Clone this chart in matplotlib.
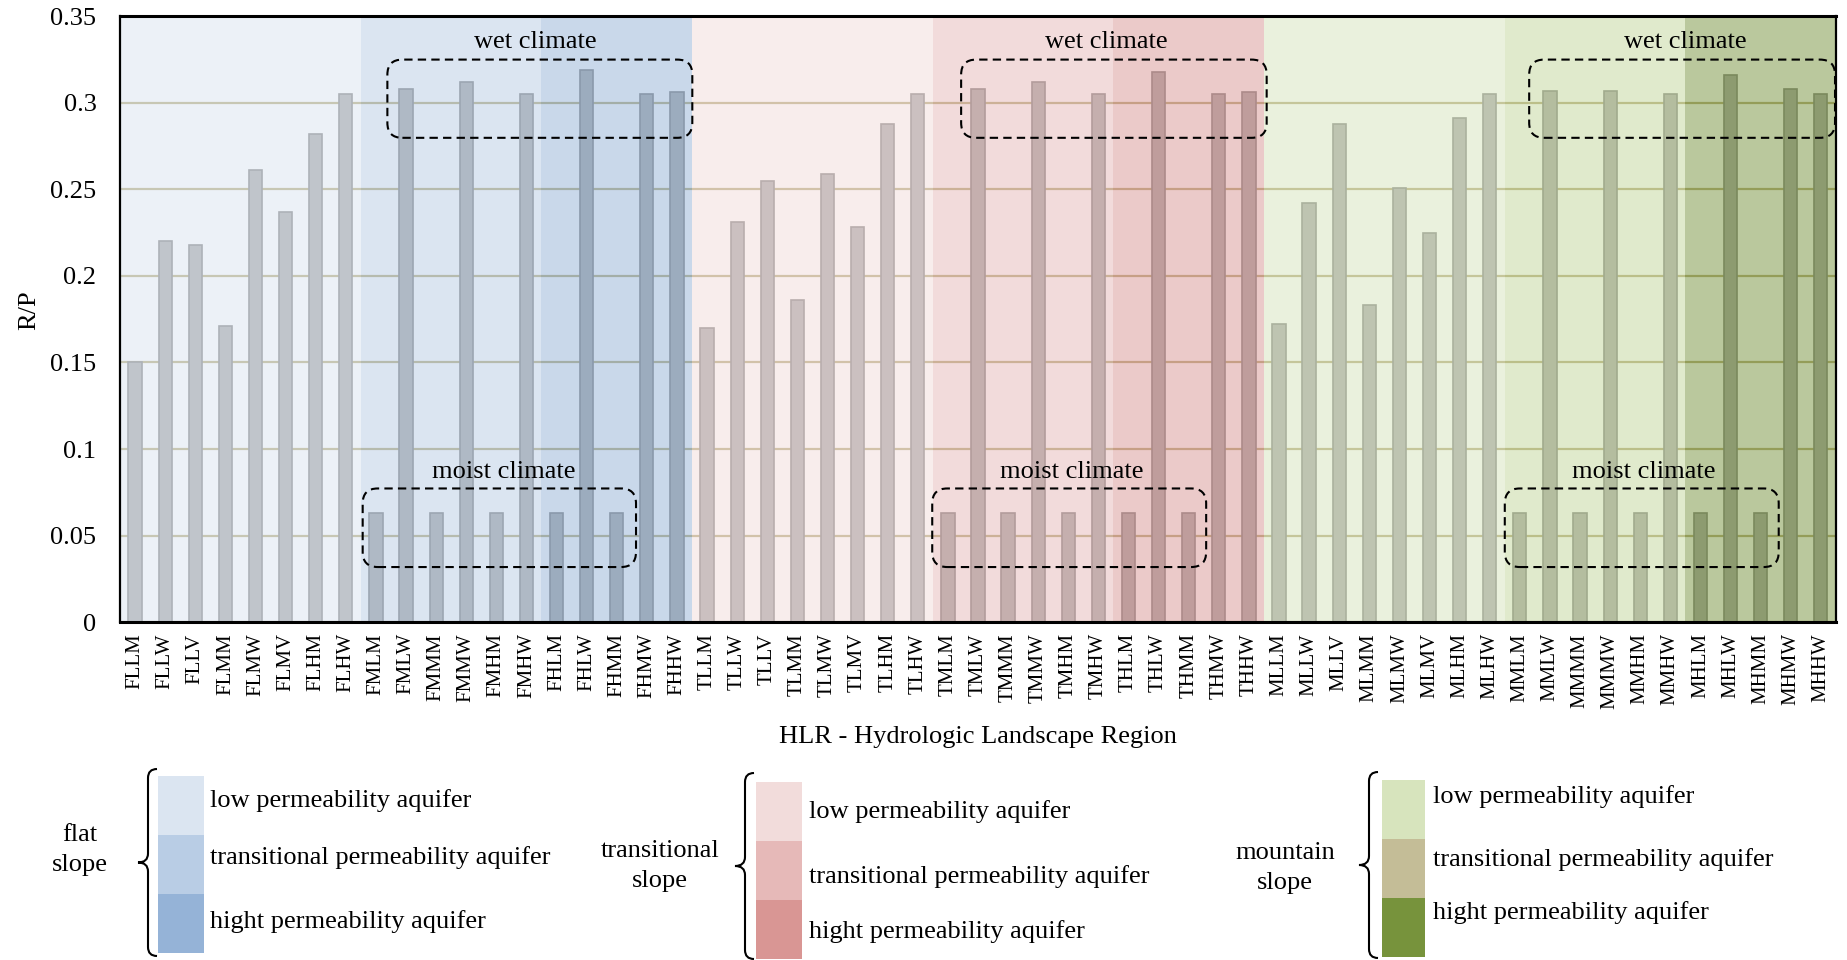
import matplotlib.pyplot as plt
import numpy as np
from matplotlib.patches import FancyBboxPatch, Rectangle, PathPatch
from matplotlib.path import Path

plt.rcParams['font.family'] = ['Liberation Serif', 'DejaVu Serif']

# HLR codes, in plot order: flat / transitional / mountain slope
hlr_labels = [
    'FLLM', 'FLLW', 'FLLV', 'FLMM', 'FLMW', 'FLMV', 'FLHM', 'FLHW',
    'FMLM', 'FMLW', 'FMMM', 'FMMW', 'FMHM', 'FMHW',
    'FHLM', 'FHLW', 'FHMM', 'FHMW', 'FHHW',
    'TLLM', 'TLLW', 'TLLV', 'TLMM', 'TLMW', 'TLMV', 'TLHM', 'TLHW',
    'TMLM', 'TMLW', 'TMMM', 'TMMW', 'TMHM', 'TMHW',
    'THLM', 'THLW', 'THMM', 'THMW', 'THHW',
    'MLLM', 'MLLW', 'MLLV', 'MLMM', 'MLMW', 'MLMV', 'MLHM', 'MLHW',
    'MMLM', 'MMLW', 'MMMM', 'MMMW', 'MMHM', 'MMHW',
    'MHLM', 'MHLW', 'MHMM', 'MHMW', 'MHHW',
]
rp_values = [
    0.150, 0.220, 0.218, 0.171, 0.261, 0.237, 0.282, 0.305,
    0.063, 0.308, 0.063, 0.312, 0.063, 0.305,
    0.063, 0.319, 0.063, 0.305, 0.306,
    0.170, 0.231, 0.255, 0.186, 0.259, 0.228, 0.288, 0.305,
    0.063, 0.308, 0.063, 0.312, 0.063, 0.305,
    0.063, 0.318, 0.063, 0.305, 0.306,
    0.172, 0.242, 0.288, 0.183, 0.251, 0.225, 0.291, 0.305,
    0.063, 0.307, 0.063, 0.307, 0.063, 0.305,
    0.063, 0.316, 0.063, 0.308, 0.305,
]

# number of HLRs per aquifer permeability class (low, transitional, high)
perm_sizes = [8, 6, 5]
slope_names = ['flat\nslope', 'transitional\nslope', 'mountain\nslope']
perm_names = ['low permeability aquifer', 'transitional permeability aquifer',
              'hight permeability aquifer']
shade_colors = [
    ['#DBE5F1', '#B9CDE5', '#95B3D7'],
    ['#F2DCDB', '#E6B9B8', '#D99694'],
    ['#D7E4BD', '#C3D69B', '#77933C'],
]
legend_colors = [
    ['#DBE5F1', '#B9CDE5', '#95B3D7'],
    ['#F2DCDB', '#E6B9B8', '#D99694'],
    ['#D7E4BD', '#C4BD97', '#77933C'],
]

fig = plt.figure(figsize=(18.47, 9.6), dpi=100)
ax = fig.add_axes([0.065, 0.352, 0.929, 0.631])

x = np.arange(len(hlr_labels))
ax.set_xlim(-0.5, len(hlr_labels) - 0.5)
ax.set_ylim(0, 0.35)

ax.set_yticks(np.arange(0, 0.351, 0.05))
ax.set_yticklabels(['0', '0.05', '0.1', '0.15', '0.2', '0.25', '0.3', '0.35'])
ax.set_xticks(x)
ax.set_xticklabels(hlr_labels, rotation=90, fontsize=15)
ax.tick_params(axis='y', length=0, pad=17, labelsize=19)
ax.tick_params(axis='x', length=0, pad=8)
ax.yaxis.grid(True, color='#B3A977', lw=1.6)
ax.set_axisbelow(True)

ax.bar(x, rp_values, width=0.44, color='#A5A5A5', edgecolor='#7F7F7F',
       lw=1.2, zorder=2)

# shaded regions on top of bars (semi transparent)
start = 0
for s in range(3):
    for p in range(3):
        end = start + perm_sizes[p]
        ax.axvspan(start - 0.5, end - 0.5, color=shade_colors[s][p],
                   alpha=0.5, lw=0, zorder=3)
        start = end

for side, sp in ax.spines.items():
    sp.set_zorder(6)
    sp.set_color('black')
    sp.set_linewidth(2.2 if side in ('top', 'bottom') else 1.6)

# climate boxes
fig.canvas.draw()
p0 = ax.transData.transform((0, 0))
p1 = ax.transData.transform((1, 1))
aspect = (p1[0] - p0[0]) / (p1[1] - p0[1])

wet_boxes = [(8.38, 18.51), (27.44, 37.59), (46.31, 56.47)]
moist_boxes = [(7.56, 16.64), (26.48, 35.58), (45.5, 54.6)]
wet_text_x = [13.3, 32.26, 51.5]
moist_text_x = [12.26, 31.1, 50.13]

for (x0, x1) in wet_boxes:
    ax.add_patch(FancyBboxPatch((x0, 0.2798), x1 - x0, 0.325 - 0.2798,
                 boxstyle='round,pad=0,rounding_size=0.5', mutation_aspect=aspect,
                 fill=False, ec='black', lw=1.5, ls=(0, (4, 2.5)), zorder=7))
for (x0, x1) in moist_boxes:
    ax.add_patch(FancyBboxPatch((x0, 0.0318), x1 - x0, 0.0772 - 0.0318,
                 boxstyle='round,pad=0,rounding_size=0.5', mutation_aspect=aspect,
                 fill=False, ec='black', lw=1.5, ls=(0, (4, 2.5)), zorder=7))
for tx in wet_text_x:
    ax.text(tx, 0.335, 'wet climate', ha='center', va='center', fontsize=19, zorder=8)
for tx in moist_text_x:
    ax.text(tx, 0.087, 'moist climate', ha='center', va='center', fontsize=19, zorder=8)

ax.set_xlabel('HLR - Hydrologic Landscape Region', fontsize=19)
ax.xaxis.label.set_va('center')
ax.xaxis.set_label_coords(0.5, -0.19)
ax.set_ylabel('R/P', fontsize=19)
ax.yaxis.label.set_va('center')
ax.yaxis.set_label_coords(-0.053, 0.515)

# legend drawn in pixel coordinates
lax = fig.add_axes([0, 0, 1, 1])
lax.set_xlim(0, 1847)
lax.set_ylim(960, 0)
lax.axis('off')
lax.patch.set_alpha(0)

brace_x = [148, 745, 1369]
brace_y = [(769, 956), (773, 959), (772, 958)]
swatch_x = [(158, 204), (756, 802), (1382, 1425)]
swatch_top = [776, 782, 780]
swatch_h = 59
label_x = [210, 809, 1433]
label_y = [(801, 858, 922), (812, 877, 932), (797, 860, 913)]
title_xy = [(80, 850), (660, 866), (1285, 868)]


def brace(xb, y0, y1):
    ym = (y0 + y1) / 2
    verts = [(xb + 9, y0), (xb, y0), (xb, y0 + 9),
             (xb, ym - 9), (xb, ym), (xb - 10, ym),
             (xb, ym), (xb, ym + 9),
             (xb, y1 - 9), (xb, y1), (xb + 9, y1)]
    codes = [Path.MOVETO, Path.CURVE3, Path.CURVE3,
             Path.LINETO, Path.CURVE3, Path.CURVE3,
             Path.CURVE3, Path.CURVE3,
             Path.LINETO, Path.CURVE3, Path.CURVE3]
    return PathPatch(Path(verts, codes), fill=False, ec='black', lw=1.5)


for s in range(3):
    lax.add_patch(brace(brace_x[s], *brace_y[s]))
    xa, xb = swatch_x[s]
    for p in range(3):
        lax.add_patch(Rectangle((xa, swatch_top[s] + p * swatch_h), xb - xa, swatch_h,
                                color=legend_colors[s][p], lw=0))
        lax.text(label_x[s], label_y[s][p], perm_names[p], ha='left', va='center',
                 fontsize=19)
    lax.text(title_xy[s][0], title_xy[s][1], slope_names[s], ha='center',
             va='center', fontsize=19, linespacing=1.5)

fig.savefig('out.png', dpi=100)
